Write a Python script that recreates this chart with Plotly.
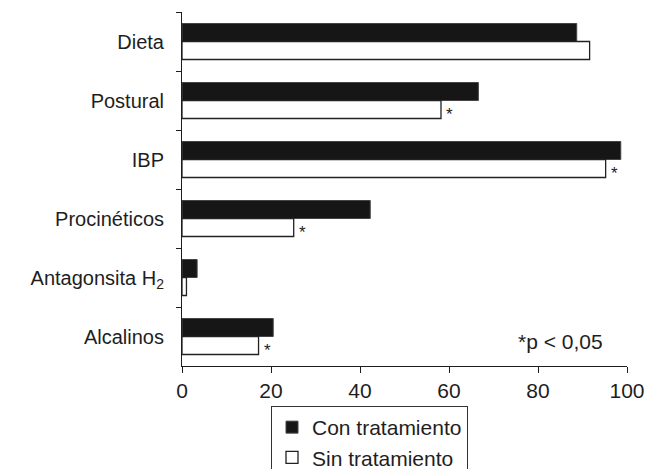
import plotly.graph_objects as go

categories = ["Dieta", "Postural", "IBP", "Procinéticos", "Antagonsita H<sub>2</sub>", "Alcalinos"]
con_tratamiento = [88.7, 66.6, 98.6, 42.3, 3.4, 20.5]
sin_tratamiento = [91.6, 58.2, 95.2, 25.1, 1.0, 17.2]
significant = [False, True, True, True, False, True]
x_ticks = [0, 20, 40, 60, 80, 100]

FONT = "Liberation Sans, Arial, sans-serif"
INK = "#1e1e1e"

fig = go.Figure()
fig.add_trace(go.Bar(
    y=categories, x=con_tratamiento, orientation="h", name="Con tratamiento",
    marker=dict(color="#161616", line=dict(color="#444444", width=1)),
))
fig.add_trace(go.Bar(
    y=categories, x=sin_tratamiento, orientation="h", name="Sin tratamiento",
    marker=dict(color="white", line=dict(color="#222222", width=1.3)),
))

annotations = []
for cat, val, sig in zip(categories, sin_tratamiento, significant):
    if sig:
        annotations.append(dict(
            text="*", x=val, y=cat, xref="x", yref="y",
            xanchor="left", yanchor="middle", xshift=3, yshift=-14,
            showarrow=False, font=dict(family=FONT, size=17, color=INK),
        ))
annotations.append(dict(
    text="*p < 0,05", xref="paper", yref="paper", x=0.951, y=0.07,
    xanchor="right", yanchor="middle", showarrow=False,
    font=dict(family=FONT, size=21, color=INK),
))

# page body has an 8px margin, so the figure is sized/offset to compensate
fig.update_layout(
    width=653, height=461,
    margin=dict(l=174, r=34, t=4, b=103, autoexpand=False),
    paper_bgcolor="white", plot_bgcolor="white",
    barmode="group", bargap=0.39, bargroupgap=0,
    font=dict(family=FONT, size=20, color=INK),
    xaxis=dict(
        range=[0, 100], tickvals=x_ticks, showgrid=False, zeroline=False,
        showline=True, linecolor=INK, linewidth=1, automargin=False,
        ticks="outside", ticklen=6, tickcolor=INK,
        tickfont=dict(family=FONT, size=21, color=INK),
    ),
    yaxis=dict(
        autorange="reversed", showgrid=False, zeroline=False,
        showline=True, linecolor=INK, linewidth=1, automargin=False,
        ticks="outside", ticklen=5, tickcolor=INK, tickson="boundaries",
        ticklabelstandoff=13,
        tickfont=dict(family=FONT, size=20, color=INK),
    ),
    legend=dict(
        x=0.2, y=-0.113, xanchor="left", yanchor="top",
        bordercolor="#333333", borderwidth=1, bgcolor="white",
        font=dict(family=FONT, size=21, color=INK),
        itemwidth=30, tracegroupgap=0,
    ),
    annotations=annotations,
)

fig.write_html("out.html")
